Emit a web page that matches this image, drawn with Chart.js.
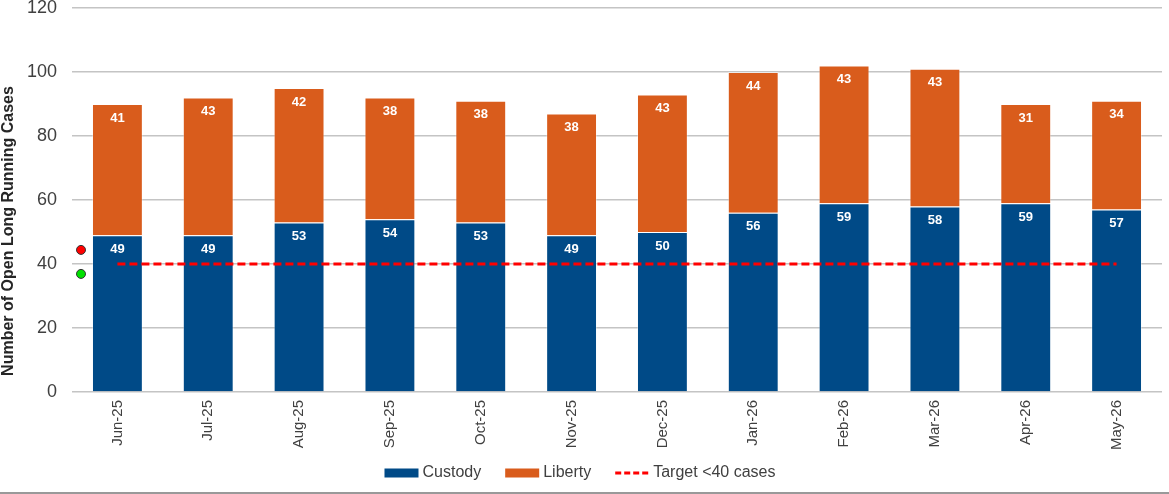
<!DOCTYPE html>
<html>
<head>
<meta charset="utf-8">
<script src="https://cdn.jsdelivr.net/npm/chart.js@4"></script>
<style>
  html, body { margin: 0; padding: 0; background: #fff; }
  #wrap { position: relative; width: 1169px; height: 494px; }
  #box { position: absolute; left: 0; top: 0; width: 1169px; height: 490px; }
  #rule { position: absolute; left: 0; top: 492px; width: 1169px; height: 2px; background: #999; }
</style>
</head>
<body>
<div id="wrap">
  <div id="box"><canvas id="chart"></canvas></div>
  <div id="rule"></div>
</div>
<script>
const months = ["Jun-25", "Jul-25", "Aug-25", "Sep-25", "Oct-25", "Nov-25",
  "Dec-25", "Jan-26", "Feb-26", "Mar-26", "Apr-26", "May-26"];
const custody = [49, 49, 53, 54, 53, 49, 50, 56, 59, 58, 59, 57];
const liberty = [41, 43, 42, 38, 38, 38, 43, 44, 43, 43, 31, 34];
const target = [40, 40, 40, 40, 40, 40, 40, 40, 40, 40, 40, 40];
// red / green status markers left of the first bar
const ragValues = [44.4, 36.9];
const ragColours = ["#ff0000", "#00e000"];
const yTicks = [0, 20, 40, 60, 80, 100, 120];

const blue = "#004a87";
const orange = "#d95c1c";
const red = "#ff0000";
const font = "'Liberation Sans', Arial, sans-serif";

// white numbers inside each bar segment
const barLabels = {
  id: "barLabels",
  afterDatasetsDraw(chart) {
    const ctx = chart.ctx;
    ctx.save();
    ctx.font = "bold 13px " + font;
    ctx.fillStyle = "#ffffff";
    ctx.textAlign = "center";
    ctx.textBaseline = "middle";
    [0, 1].forEach((di) => {
      const meta = chart.getDatasetMeta(di);
      meta.data.forEach((bar, i) => {
        ctx.fillText(chart.data.datasets[di].data[i], bar.x, bar.y + 14);
      });
    });
    ctx.restore();
  },
};

// the two status dots, placed on the y scale just inside the plot
const ragDots = {
  id: "ragDots",
  afterDatasetsDraw(chart) {
    const ctx = chart.ctx;
    const y = chart.scales.y;
    ctx.save();
    ragValues.forEach((v, i) => {
      ctx.beginPath();
      ctx.arc(chart.chartArea.left + 9, y.getPixelForValue(v), 4.5, 0, Math.PI * 2);
      ctx.fillStyle = ragColours[i];
      ctx.fill();
      ctx.lineWidth = 1;
      ctx.strokeStyle = "#333333";
      ctx.stroke();
    });
    ctx.restore();
  },
};

// y title, sits a bit below the middle of the axis like the original
const yTitle = {
  id: "yTitle",
  afterDraw(chart) {
    const ctx = chart.ctx;
    ctx.save();
    ctx.translate(9, 231);
    ctx.rotate(-Math.PI / 2);
    ctx.font = "bold 16px " + font;
    ctx.fillStyle = "#262626";
    ctx.textAlign = "center";
    ctx.textBaseline = "middle";
    ctx.fillText("Number of Open Long Running Cases", 0, 0);
    ctx.restore();
  },
};

// legend drawn by hand so the gaps match the original
const legendRow = {
  id: "legendRow",
  afterDraw(chart) {
    const ctx = chart.ctx;
    const ds = chart.data.datasets;
    const cy = 473;
    const boxW = 34, gap = 4, itemGap = 24;
    ctx.save();
    ctx.font = "16px " + font;
    ctx.textBaseline = "middle";
    const widths = ds.map((d) => boxW + gap + ctx.measureText(d.label).width);
    const total = widths.reduce((a, b) => a + b, 0) + itemGap * (ds.length - 1);
    let x = 580 - total / 2;
    ds.forEach((d, i) => {
      if (d.type === "line") {
        ctx.beginPath();
        ctx.setLineDash([6, 3]);
        ctx.lineWidth = 3;
        ctx.strokeStyle = d.borderColor;
        ctx.moveTo(x, cy);
        ctx.lineTo(x + boxW, cy);
        ctx.stroke();
        ctx.setLineDash([]);
      } else {
        ctx.fillStyle = d.backgroundColor;
        ctx.fillRect(x, cy - 4.5, boxW, 9);
      }
      ctx.fillStyle = "#404040";
      ctx.fillText(d.label, x + boxW + gap, cy);
      x += widths[i] + itemGap;
    });
    ctx.restore();
  },
};

new Chart(document.getElementById("chart"), {
  type: "bar",
  data: {
    labels: months,
    datasets: [
      {
        label: "Custody",
        data: custody,
        backgroundColor: blue,
        borderColor: "rgba(255,255,255,0.35)",
        borderWidth: 1,
        stack: "cases",
        categoryPercentage: 1,
        barPercentage: 0.56,
        order: 2,
      },
      {
        label: "Liberty",
        data: liberty,
        backgroundColor: orange,
        borderColor: "rgba(255,255,255,0.35)",
        borderWidth: 1,
        stack: "cases",
        categoryPercentage: 1,
        barPercentage: 0.56,
        order: 2,
      },
      {
        type: "line",
        label: "Target <40 cases",
        data: target,
        borderColor: red,
        borderWidth: 3,
        borderDash: [8, 4],
        pointRadius: 0,
        fill: false,
        stack: "target",
        order: 1,
      },
    ],
  },
  options: {
    responsive: true,
    maintainAspectRatio: false,
    animation: false,
    layout: { padding: { top: 8, right: 7, left: 0, bottom: 0 } },
    plugins: {
      tooltip: { enabled: false },
      legend: { display: false },
    },
    scales: {
      x: {
        stacked: true,
        grid: { display: false },
        border: { display: false },
        ticks: {
          minRotation: 90,
          maxRotation: 90,
          padding: 0,
          color: "#404040",
          font: { size: 15, family: font },
        },
        afterFit: (scale) => { scale.height = 98; },
      },
      y: {
        stacked: true,
        min: 0,
        max: 120,
        afterBuildTicks: (scale) => { scale.ticks = yTicks.map((v) => ({ value: v })); },
        grid: { color: "#c4c4c4", lineWidth: 1.5, drawTicks: false },
        border: { display: false },
        ticks: {
          padding: 15,
          color: "#404040",
          font: { size: 18, family: font },
        },
        afterFit: (scale) => {
          scale.width = 72;
          scale.paddingTop = 0;
          scale.paddingBottom = 0;
        },
      },
    },
  },
  plugins: [barLabels, ragDots, yTitle, legendRow],
});
</script>
</body>
</html>
